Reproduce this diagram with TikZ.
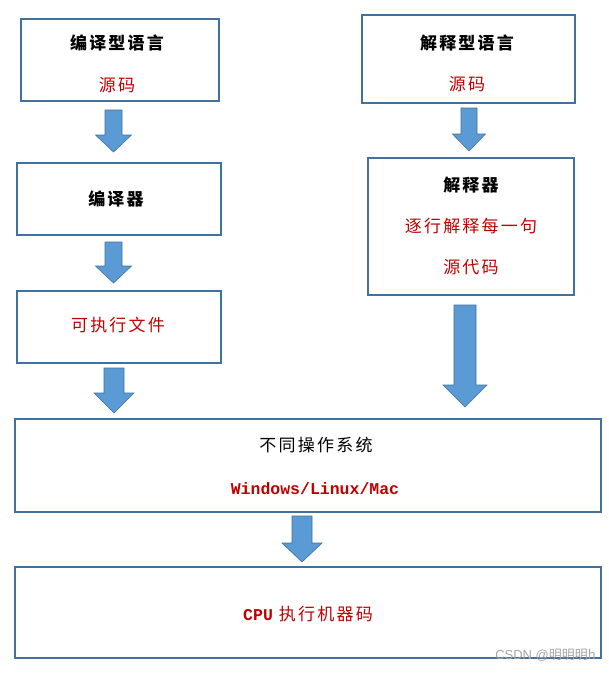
\documentclass[tikz,border=0pt]{standalone}
\usepackage{fontspec}
\newfontfamily\cjk[LetterSpace=13]{Noto Sans CJK SC}
\newfontfamily\cjkplain{Noto Sans CJK SC}
\newfontfamily\sansfnt{Liberation Sans}
\newfontfamily\monofnt{Liberation Mono}
\definecolor{boxblue}{HTML}{41719C}
\definecolor{arrowblue}{HTML}{5B9BD5}
\definecolor{txtred}{HTML}{C00000}
\tikzset{
  frame/.style={draw=boxblue, line width=1.6pt, fill=white},
  blk/.style={font=\cjk\bfseries\fontsize{17}{18}\selectfont, text=black, inner sep=0pt},
  rd/.style={font=\cjk\fontsize{17}{18}\selectfont, text=txtred, inner sep=0pt},
  blockarrow/.style={fill=arrowblue, draw=boxblue, line width=0.6pt, line join=miter},
}
\newcommand\myarrow[6]{% x, ytop, yhead, ytip, shaft half, head half
  \draw[blockarrow] (#1-#5,#2) -- (#1+#5,#2) -- (#1+#5,#3) -- (#1+#6,#3) -- (#1,#4)
     -- (#1-#6,#3) -- (#1-#5,#3) -- cycle;}
\begin{document}
\begin{tikzpicture}[x=1pt,y=-1pt]
\useasboundingbox[fill=white] (0,0) rectangle (609,673);
% boxes
\draw[frame] (21,19) rectangle (219,101) coordinate (A);
\draw[frame] (17,163) rectangle (221,235) coordinate (B);
\draw[frame] (17,291) rectangle (221,363) coordinate (C);
\draw[frame] (362,15) rectangle (575,103) coordinate (F);
\draw[frame] (368,158) rectangle (574,295) coordinate (G);
\draw[frame] (15,419) rectangle (601,512) coordinate (D);
\draw[frame] (15,567) rectangle (601,658) coordinate (E);
% arrows
\myarrow{113.5}{110}{135}{152}{8.5}{18}
\myarrow{113.5}{242}{266}{283}{8.5}{18}
\myarrow{114}{368}{393}{413}{10}{20}
\myarrow{469}{108}{134}{151}{8}{16.5}
\myarrow{465}{305}{385}{407}{11}{22}
\myarrow{302}{516}{543}{562}{10}{20}
% texts
\node[blk] (a1) at (117,43) {编译型语言};
\node[rd]  (a2) at (117,85) {源码};
\node[blk] (b1) at (116,199) {编译器};
\node[rd]  (c1) at (118,325) {可执行文件};
\node[blk] (f1) at (467,43) {解释型语言};
\node[rd]  (f2) at (467,84) {源码};
\node[blk] (g1) at (471,185) {解释器};
\node[rd]  (g2) at (471,226) {逐行解释每一句};
\node[rd]  (g3) at (471,267) {源代码};
\node[blk, font=\cjk\fontsize{17}{18}\selectfont] (d1) at (316,445) {不同操作系统};
\node[text=txtred, inner sep=0pt, font=\monofnt\bfseries\fontsize{16.5}{17}\selectfont] (d2) at (315,489) {Windows/Linux/Mac};
\node[rd] (e1) at (308,614) {{\monofnt\bfseries\fontsize{16.5}{17}\selectfont CPU} 执行机器码};
\node[text=black!35, inner sep=0pt, font=\cjkplain\fontsize{13}{14}\selectfont, anchor=east] (wm) at (596,655) {{\sansfnt CSDN @}明明明h};
\end{tikzpicture}
\end{document}
